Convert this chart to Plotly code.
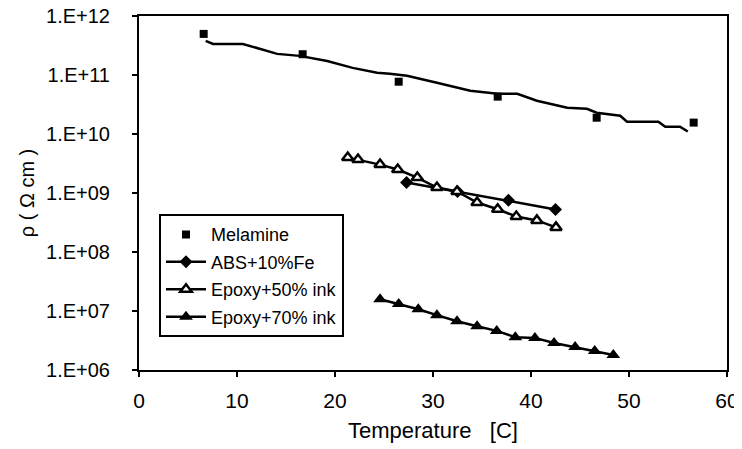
import plotly.graph_objects as go

# Melamine measured points (squares)
mel_t = [6.6, 16.7, 26.5, 36.6, 46.7, 56.6]
mel_r = [4.97e11, 2.25e11, 7.7e10, 4.3e10, 1.89e10, 1.56e10]

# Melamine continuous curve (no legend entry)
melc_t = [6.8, 7.55, 10.6, 12.35, 14.1, 16.4, 19.2, 21.8, 24.3, 25.6, 27.35, 30.4,
          33.8, 36.6, 38.6, 40.6, 43.7, 45.7, 46.7, 49.1, 49.8, 53.0, 53.7, 55.2, 56.0]
melc_r = [3.78e11, 3.36e11, 3.36e11, 2.77e11, 2.28e11, 2.11e11, 1.73e11, 1.32e11, 1.09e11,
          1.05e11, 9.7e10, 7.4e10, 5.4e10, 4.8e10, 4.8e10, 3.66e10, 2.79e10, 2.68e10,
          2.3e10, 2.04e10, 1.62e10, 1.62e10, 1.33e10, 1.33e10, 1.1e10]

abs_t = [27.3, 32.5, 37.7, 42.5]
abs_r = [1.51e9, 1.06e9, 7.5e8, 5.26e8]

ep50_t = [21.3, 22.35, 24.6, 26.4, 28.4, 30.4, 32.45, 34.5, 36.6, 38.5, 40.6, 42.55]
ep50_r = [3.98e9, 3.68e9, 3.03e9, 2.5e9, 1.83e9, 1.24e9, 1.06e9, 6.9e8, 5.3e8, 4.0e8, 3.43e8, 2.61e8]

ep70_t = [24.6, 26.5, 28.5, 30.4, 32.45, 34.5, 36.5, 38.4, 40.4, 42.35, 44.5, 46.5, 48.4]
ep70_r = [1.58e7, 1.31e7, 1.07e7, 8.5e6, 6.7e6, 5.5e6, 4.6e6, 3.6e6, 3.5e6, 2.86e6, 2.45e6, 2.1e6, 1.8e6]

y_ticks = [1e6, 1e7, 1e8, 1e9, 1e10, 1e11, 1e12]
y_text = ["1.E+06", "1.E+07", "1.E+08", "1.E+09", "1.E+10", "1.E+11", "1.E+12"]

font = "Arial, Liberation Sans, sans-serif"

fig = go.Figure()
fig.add_trace(go.Scatter(x=melc_t, y=melc_r, mode="lines", showlegend=False,
                         line=dict(color="black", width=2.5)))
fig.add_trace(go.Scatter(x=mel_t, y=mel_r, mode="markers", name="Melamine",
                         legendgroup="a",
                         marker=dict(symbol="square", size=8, color="black")))
fig.add_trace(go.Scatter(x=abs_t, y=abs_r, mode="lines+markers", name="ABS+10%Fe",
                         legendgroup="b",
                         line=dict(color="black", width=2.5),
                         marker=dict(symbol="diamond", size=10, color="black")))
fig.add_trace(go.Scatter(x=ep50_t, y=ep50_r, mode="lines+markers", name="Epoxy+50% ink",
                         legendgroup="c",
                         line=dict(color="black", width=2.5),
                         marker=dict(symbol="triangle-up", size=10, color="white",
                                     line=dict(color="black", width=2.5))))
fig.add_trace(go.Scatter(x=ep70_t, y=ep70_r, mode="lines+markers", name="Epoxy+70% ink",
                         legendgroup="d",
                         line=dict(color="black", width=2.5),
                         marker=dict(symbol="triangle-up", size=12, color="black")))

# page body adds an 8px offset, so the figure is 8px smaller than the window
fig.update_layout(
    width=734, height=441,
    margin=dict(l=131, r=15, t=8, b=79),
    plot_bgcolor="white", paper_bgcolor="white",
    font=dict(family=font, size=21, color="black"),
    legend=dict(x=0.034, y=0.44, xanchor="left", yanchor="top",
                bordercolor="black", borderwidth=2, bgcolor="white",
                font=dict(size=18), tracegroupgap=1, itemwidth=40),
    xaxis=dict(range=[0, 60], tickvals=[0, 10, 20, 30, 40, 50, 60],
               showgrid=False, zeroline=False, showline=True, linecolor="black",
               linewidth=2, mirror=True, ticks="outside", ticklen=5, tickwidth=2,
               tickcolor="black", automargin=False, ticklabelstandoff=6,
               ticklabeloverflow="allow",
               title=dict(text="Temperature   [C]", standoff=11, font=dict(size=22))),
    yaxis=dict(type="log", range=[6, 12], tickvals=y_ticks, ticktext=y_text,
               showgrid=False, zeroline=False, showline=True, linecolor="black",
               linewidth=2, mirror=True, ticks="outside", ticklen=5, tickwidth=2,
               tickcolor="black", automargin=False, ticklabelstandoff=18,
               ticklabeloverflow="allow", tickfont=dict(size=20),
               title=dict(text="ρ ( Ω cm )", standoff=6, font=dict(size=20))),
)

fig.write_html("out.html")
